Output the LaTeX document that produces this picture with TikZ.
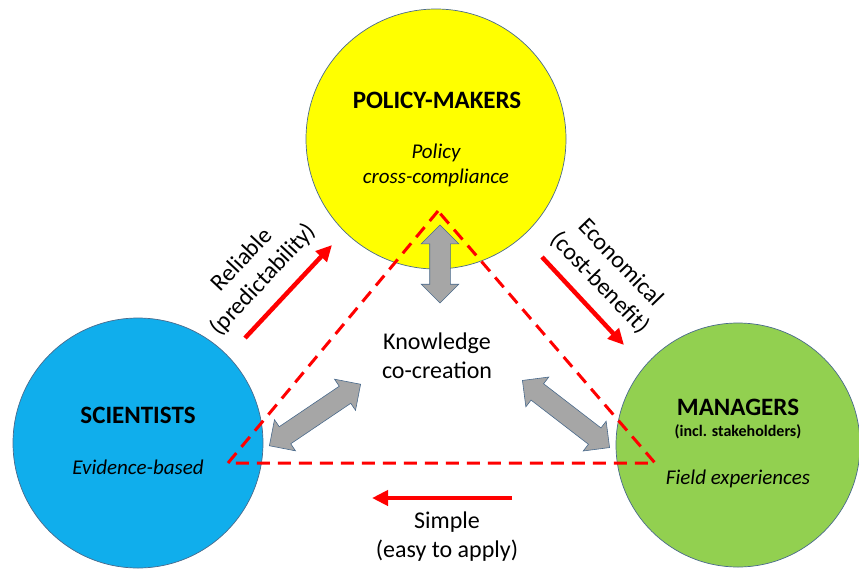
\documentclass[tikz,border=0pt]{standalone}
\usepackage{fontspec}
\setmainfont{Carlito}
\usetikzlibrary{arrows.meta,shapes.arrows}
\definecolor{polyellow}{HTML}{FFFF00}
\definecolor{sciblue}{HTML}{10AEEC}
\definecolor{mangreen}{HTML}{92D050}
\definecolor{rimline}{HTML}{4A6A8C}
\definecolor{flowred}{HTML}{FF0000}
\definecolor{linkgray}{HTML}{A6A6A6}

\tikzset{
  actor/.style={circle, draw=rimline, line width=0.7pt, inner sep=0pt},
  title/.style={font=\bfseries\fontsize{25}{30}\selectfont},
  subtitle/.style={font=\bfseries\fontsize{16}{19}\selectfont},
  trait/.style={font=\itshape\fontsize{21}{25}\selectfont, align=center},
  quality/.style={font=\fontsize{24}{29}\selectfont, align=center},
  benefit/.style={draw=flowred, line width=4.5pt, -{Triangle[length=16pt,width=15pt]}},
  cocreate/.style={draw=flowred, line width=3pt, dash pattern=on 13pt off 8pt},
  twoway/.style={double arrow, draw=rimline, line width=0.6pt, fill=linkgray,
    inner sep=0pt, inner ysep=10pt, minimum width=0pt,
    double arrow head extend=8.5pt, double arrow head indent=0pt}
}

\begin{document}
\begin{tikzpicture}[x=1pt,y=-1pt]
	\useasboundingbox (0,0) rectangle (859,568);
	% the three actors
	\node[actor, fill=polyellow, minimum size=260pt] (pol) at (436,139) {};
	\node[actor, fill=sciblue, minimum size=250pt] (sci) at (138,443) {};
	\node[actor, fill=mangreen, minimum size=244pt] (man) at (738,445) {};
	%
	\node[title] (poltitle) at (437,100) {POLICY-MAKERS};
	\node[trait] (poltrait) at (436,165) {Policy\\cross-compliance};
	\node[title] (scititle) at (138,415) {SCIENTISTS};
	\node[trait] (scitrait) at (138,467) {Evidence-based};
	\node[title] (mantitle) at (738,407) {MANAGERS};
	\node[subtitle] (mansub) at (738,432) {(incl. stakeholders)};
	\node[trait] (mantrait) at (738,479) {Field experiences};
	% knowledge co-creation triangle
	\coordinate (tA) at (438,211);
	\coordinate (tB) at (228,463);
	\coordinate (tC) at (655,463);
	\draw[cocreate] (tA) -- (tB) -- (tC) -- cycle;
	\node[quality] (know) at (437,356) {Knowledge\\co-creation};
	%
	\node[twoway, minimum height=78pt, rotate=90] (kpol) at (440,264) {};
	\node[twoway, minimum height=110pt, rotate=34] (ksci) at (315,415) {};
	\node[twoway, minimum height=110pt, rotate=-37.6] (kman) at (566,414) {};
	% qualities between the actors
	\coordinate (rel1) at (245,338);
	\coordinate (rel2) at (332,245);
	\draw[benefit] (rel1) -- (rel2);
	\node[quality, rotate=47] (reliable) at (253,270) {Reliable\\(predictability)};
	%
	\coordinate (eco1) at (542,257);
	\coordinate (eco2) at (624,345);
	\draw[benefit] (eco1) -- (eco2);
	\node[quality, rotate=-46] (economical) at (610,273) {Economical\\(cost-benefit)};
	%
	\coordinate (sim1) at (512,498);
	\coordinate (sim2) at (372,498);
	\draw[benefit] (sim1) -- (sim2);
	\node[quality] (simple) at (447,537) {Simple\\(easy to apply)};
\end{tikzpicture}
\end{document}
